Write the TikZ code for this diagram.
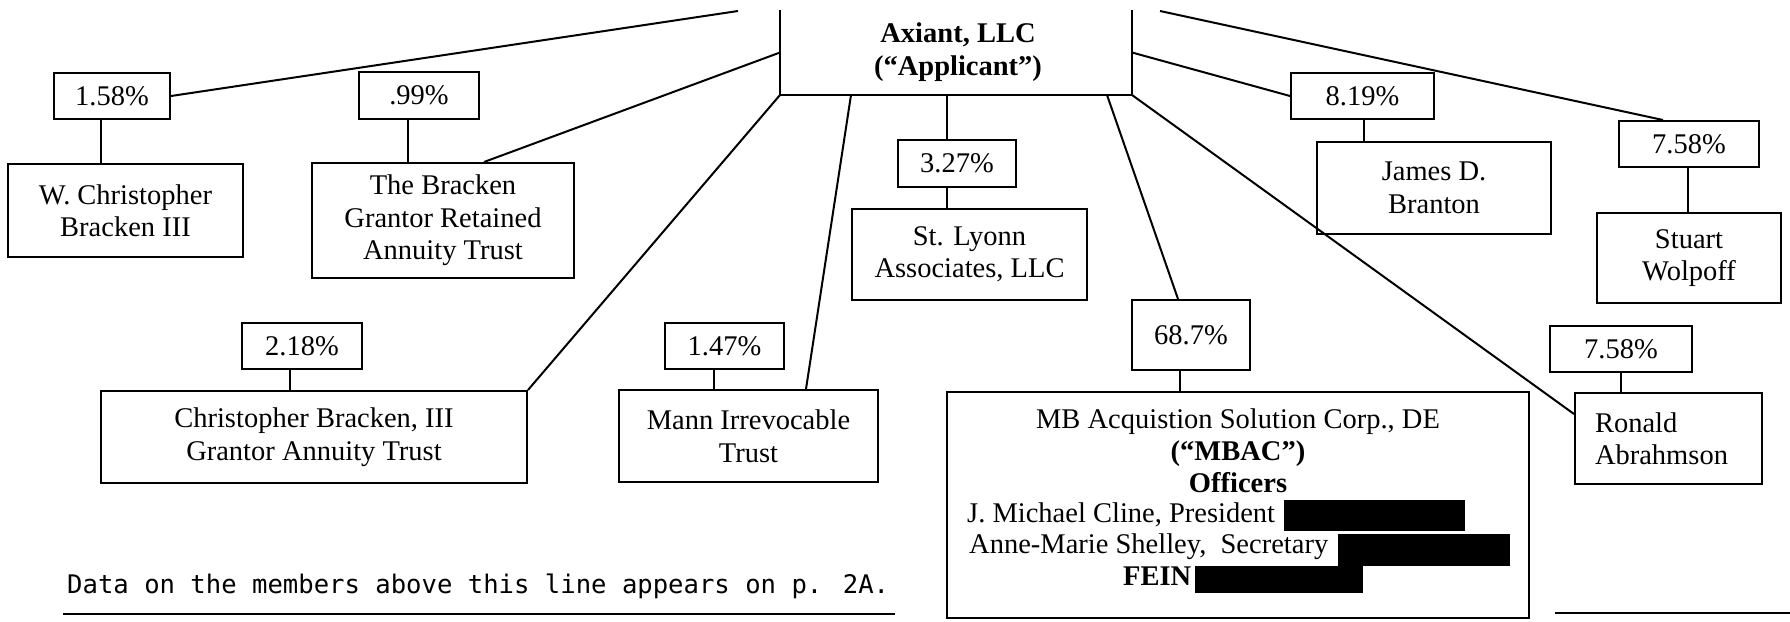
\documentclass[tikz,border=0pt]{standalone}
\usepackage{fontspec}
\setmainfont{Liberation Serif}
\newfontfamily\footmono{DejaVu Sans Mono}
\usetikzlibrary{calc}
\begin{document}
\begin{tikzpicture}[x=1pt,y=-1pt,
  box/.style={draw, line width=2pt, rectangle, inner sep=0pt, align=center, font=\fontsize{28.5}{32.5}\selectfont},
  conn/.style={line width=2pt},
  redact/.style={fill=black, draw=none, inner sep=0pt},
  txt/.style={inner sep=0pt, font=\fontsize{28.5}{32.5}\selectfont}]
\useasboundingbox (0,0) rectangle (1790,621);

% Applicant (open box, top edge cut off)
\node[box, draw=none, minimum width=350pt, minimum height=83pt] (axiant) at (956,52.5) {};
\draw[conn] (axiant.north west) -- (axiant.south west) -- (axiant.south east) -- (axiant.north east);
\node[txt, anchor=base, font=\bfseries\fontsize{28.5}{33}\selectfont] (axt1) at (958,42) {Axiant, LLC};
\node[txt, anchor=base, font=\bfseries\fontsize{28.5}{33}\selectfont] (axt2) at (958,75) {(“Applicant”)};

% percentage boxes
\node[box, minimum width=116pt, minimum height=46pt] (p158) at (112,96) {1.58\%};
\node[box, minimum width=120pt, minimum height=47pt] (p099) at (419,95.5) {.99\%};
\node[box, minimum width=118pt, minimum height=47pt] (p327) at (957,163.5) {3.27\%};
\node[box, minimum width=120pt, minimum height=46pt] (p218) at (302,346) {2.18\%};
\node[box, minimum width=119pt, minimum height=46pt] (p147) at (724.5,346) {1.47\%};
\node[box, minimum width=118pt, minimum height=70pt] (p687) at (1191,335) {68.7\%};
\node[box, minimum width=143pt, minimum height=46pt] (p819) at (1362.5,96) {8.19\%};
\node[box, minimum width=140pt, minimum height=46pt] (p758s) at (1689,144) {7.58\%};
\node[box, minimum width=142pt, minimum height=46pt] (p758r) at (1621,349) {7.58\%};

% member boxes
\node[box, minimum width=235pt, minimum height=93pt] (wcb) at (125.5,210.5) {W. Christopher\\Bracken III};
\node[box, minimum width=262pt, minimum height=115pt] (bgrat) at (443,220.5) {The Bracken\\Grantor Retained\\Annuity Trust};
\node[box, minimum width=235pt, minimum height=91pt] (stl) at (969.5,254.5) {St. Lyonn\\Associates, LLC};
\node[box, minimum width=426pt, minimum height=92pt] (cbgat) at (314,437) {Christopher Bracken, III\\Grantor Annuity Trust};
\node[box, minimum width=259pt, minimum height=92pt] (mann) at (748.5,436) {Mann Irrevocable\\Trust};
\node[box, minimum width=234pt, minimum height=92pt] (james) at (1434,188) {James D.\\Branton};
\node[box, minimum width=184pt, minimum height=90pt] (stuart) at (1689,258) {Stuart\\Wolpoff};
\node[box, minimum width=187pt, minimum height=91pt, align=left, text width=147pt, inner xsep=20pt] (ronald) at (1668.5,438.5) {Ronald\\Abrahmson};
\node[box, minimum width=582pt, minimum height=226pt] (mbac) at (1238,505) {};

% MBAC contents
\node[txt, anchor=base] (mbac1) at (1238,428) {MB Acquistion Solution Corp., DE};
\node[txt, anchor=base] (mbac2) at (1238,460) {\textbf{(“MBAC”)}};
\node[txt, anchor=base] (mbac3) at (1238,492) {\textbf{Officers}};
\node[txt, anchor=base west] (mbac4) at (967,522) {J. Michael Cline, President};
\node[txt, anchor=base west] (mbac5) at (969,553) {Anne-Marie Shelley,\ \ Secretary};
\node[txt, anchor=base west] (mbac6) at (1123,585) {\textbf{FEIN}};
\node[redact, minimum width=181pt, minimum height=31pt] (r1) at (1374.5,515.5) {};
\node[redact, minimum width=172pt, minimum height=32pt] (r2) at (1424,550) {};
\node[redact, minimum width=168pt, minimum height=27pt] (r3) at (1279,579.5) {};

% free ends of the two cut-off connectors
\coordinate (c1) at (738,11);
\coordinate (c2) at (1160,11);

% connectors from the applicant
\draw[conn] (p158.east) -- (c1);
\draw[conn] ([xshift=41pt]bgrat.north) -- (axiant.west);
\draw[conn] (axiant.south west) -- (cbgat.north east);
\draw[conn] ([xshift=-105pt]axiant.south) -- ([xshift=57.5pt]mann.north);
\draw[conn] ([xshift=-9pt]axiant.south) -- ([xshift=-10pt]p327.north);
\draw[conn] ([xshift=151pt]axiant.south) -- ([xshift=-13pt]p687.north);
\draw[conn] (axiant.south east) -- ([yshift=24.5pt]ronald.west);
\draw[conn] (axiant.east) -- (p819.west);
\draw[conn] (c2) -- ([xshift=-26pt]p758s.north);

% percentage-to-member links
\draw[conn] ([xshift=-11pt]p158.south) coordinate (v1) -- (v1 |- wcb.north);
\draw[conn] ([xshift=-11pt]p099.south) coordinate (v2) -- (v2 |- bgrat.north);
\draw[conn] ([xshift=-10pt]p327.south) coordinate (v3) -- (v3 |- stl.north);
\draw[conn] ([xshift=-12pt]p218.south) coordinate (v4) -- (v4 |- cbgat.north);
\draw[conn] ([xshift=-10.5pt]p147.south) coordinate (v5) -- (v5 |- mann.north);
\draw[conn] ([xshift=-11pt]p687.south) coordinate (v6) -- (v6 |- mbac.north);
\draw[conn] ([xshift=1.5pt]p819.south) coordinate (v7) -- (v7 |- james.north);
\draw[conn] ([xshift=-1pt]p758s.south) coordinate (v8) -- (v8 |- stuart.north);
\draw[conn] (p758r.south) coordinate (v9) -- (v9 |- ronald.north);

% footer
\node[inner sep=0pt, anchor=base west, font=\footmono\fontsize{25.6}{30}\selectfont] (note) at (67,593) {Data on the members above this line appears on p. 2A.};
\coordinate (f1) at (63,614);
\coordinate (f2) at (895,614);
\coordinate (f3) at (1555,613);
\coordinate (f4) at (1790,613);
\draw[conn] (f1) -- (f2);
\draw[conn] (f3) -- (f4);
\end{tikzpicture}
\end{document}
